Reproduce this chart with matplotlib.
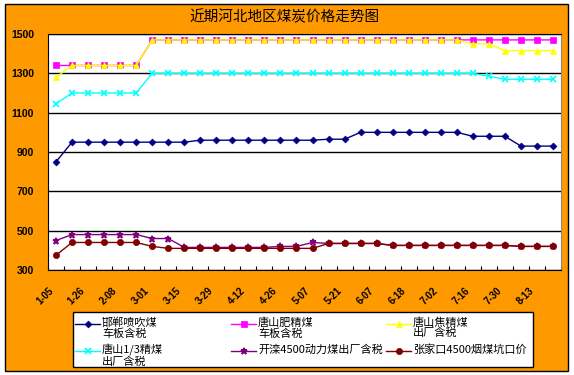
import matplotlib.pyplot as plt
import matplotlib.transforms as mtransforms
import numpy as np
from matplotlib.lines import Line2D
from matplotlib.patches import Rectangle

plt.rcParams['font.family'] = ['Noto Sans CJK SC', 'DejaVu Sans']

# weekly prices, 32 observations
handan = [850, 950, 950, 950, 950, 950, 950, 950, 950, 960, 960, 960, 960, 960, 960, 960,
          960, 965, 965, 1000, 1000, 1000, 1000, 1000, 1000, 1000, 980, 980, 980, 930, 930, 930]
tangshan_fei = [1340, 1340, 1340, 1340, 1340, 1340, 1470, 1470, 1470, 1470, 1470, 1470, 1470, 1470, 1470, 1470,
                1470, 1470, 1470, 1470, 1470, 1470, 1470, 1470, 1470, 1470, 1470, 1470, 1470, 1470, 1470, 1470]
tangshan_jiao = [1280, 1340, 1340, 1340, 1340, 1340, 1470, 1470, 1470, 1470, 1470, 1470, 1470, 1470, 1470, 1470,
                 1470, 1470, 1470, 1470, 1470, 1470, 1470, 1470, 1470, 1470, 1450, 1450, 1415, 1415, 1415, 1415]
tangshan_13 = [1145, 1200, 1200, 1200, 1200, 1200, 1300, 1300, 1300, 1300, 1300, 1300, 1300, 1300, 1300, 1300,
               1300, 1300, 1300, 1300, 1300, 1300, 1300, 1300, 1300, 1300, 1300, 1285, 1270, 1270, 1270, 1270]
kailuan = [450, 480, 480, 480, 480, 480, 460, 460, 415, 415, 415, 415, 415, 415, 420, 420,
           440, 435, 435, 435, 435, 425, 425, 425, 425, 425, 425, 425, 425, 420, 420, 420]
zhangjiakou = [375, 440, 440, 440, 440, 440, 420, 410, 410, 410, 410, 410, 410, 410, 410, 410,
               410, 435, 435, 435, 435, 425, 425, 425, 425, 425, 425, 425, 425, 420, 420, 420]

date_labels = ['1-05', '1-26', '2-08', '3-01', '3-15', '3-29', '4-12', '4-26',
               '5-07', '5-21', '6-07', '6-18', '7-02', '7-16', '7-30', '8-13']

series_names = ['邯郸喷吹煤\n车板含税', '唐山肥精煤\n车板含税', '唐山焦精煤\n出厂含税',
                '唐山1/3精煤\n出厂含税', '开滦4500动力煤出厂含税', '张家口4500烟煤坑口价']
series = [handan, tangshan_fei, tangshan_jiao, tangshan_13, kailuan, zhangjiakou]
colors = ['#000080', '#FF00FF', '#FFFF00', '#00FFFF', '#800080', '#800000']
markers = ['D', 's', '^', 'x', '*', 'o']
msizes = [3.5, 4, 4.5, 4, 5, 4.5]

W, H = 574, 375
fig = plt.figure(figsize=(W / 100, H / 100), dpi=100)
fig.patch.set_facecolor('white')


def fx(px):
    return px / W


def fy(py):
    return 1 - py / H


# orange chart area with black border
fig.patches.append(Rectangle((fx(5), fy(371)), fx(563), 367 / H, transform=fig.transFigure,
                             facecolor='#FF9900', edgecolor='black', lw=1, zorder=-10))

ax = fig.add_axes([fx(48), fy(270), fx(513), 236 / H])
ax.set_facecolor('white')

x = np.arange(len(handan))
for vals, c, m, ms in zip(series, colors, markers, msizes):
    ax.plot(x, vals, color=c, marker=m, markersize=ms, lw=1, markeredgewidth=1.2 if m in 'x*' else 0.5,
            markeredgecolor=c, zorder=3)

ax.set_xlim(-0.5, len(x) - 0.5)
ax.set_ylim(300, 1500)
ax.set_yticks(np.arange(300, 1501, 200))
ax.set_yticklabels([str(v) for v in range(300, 1501, 200)], fontsize=7.5, fontweight='bold',
                   family='Liberation Sans')
ax.yaxis.grid(True, color='black', lw=1)
ax.set_axisbelow(True)
ax.tick_params(axis='y', length=0, pad=10)

ax.set_xticks(np.arange(-0.5, len(x), 1), minor=True)
ax.set_xticks(np.arange(0, len(x), 2))
ax.set_xticklabels(date_labels, rotation=45, ha='right', rotation_mode='anchor',
                   fontsize=7, fontweight='bold', family='Liberation Sans')
ax.tick_params(axis='x', which='major', length=0, pad=11)
ax.tick_params(axis='x', which='minor', direction='in', length=3, width=0.8)
shift = mtransforms.ScaledTranslation(-0.08, 0, fig.dpi_scale_trans)
for lab in ax.get_xticklabels():
    lab.set_transform(lab.get_transform() + shift)

for s in ['left', 'bottom', 'top']:
    ax.spines[s].set_color('black')
ax.spines['right'].set_color('#888888')

fig.text(fx(285), fy(17), '近期河北地区煤炭价格走势图', ha='center', va='center', fontsize=10.5)

# legend box drawn like the original (3 columns, 2 rows)
fig.patches.append(Rectangle((fx(73), fy(367)), fx(460), 55 / H, transform=fig.transFigure,
                             facecolor='white', edgecolor='black', lw=1, zorder=1))
col_x = [73, 229, 384]
row_y = [324, 351]
for i, (name, c, m, ms) in enumerate(zip(series_names, colors, markers, msizes)):
    cx = col_x[i % 3]
    ry = row_y[i // 3]
    fig.add_artist(Line2D([fx(cx + 2), fx(cx + 27)], [fy(ry), fy(ry)], color=c, lw=1,
                          transform=fig.transFigure, zorder=2))
    fig.add_artist(Line2D([fx(cx + 14.5)], [fy(ry)], color=c, marker=m, markersize=ms,
                          markeredgecolor=c, markeredgewidth=1.2 if m in 'x*' else 0.5,
                          transform=fig.transFigure, zorder=2))
    fig.text(fx(cx + 29), fy(ry - 7), name, ha='left', va='top', fontsize=8,
             linespacing=1.05, zorder=3)

plt.savefig('out.png', dpi=100, facecolor=fig.get_facecolor())
